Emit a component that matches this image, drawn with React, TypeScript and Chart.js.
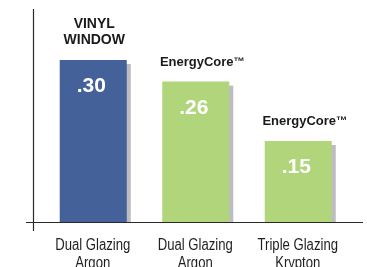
import React, { useEffect, useRef } from "react";
import { Chart, registerables } from "chart.js";

Chart.register(...registerables);

const categories: string[][] = [
  ["Dual Glazing", "Argon"],
  ["Dual Glazing", "Argon"],
  ["Triple Glazing", "Krypton"],
];
const values: number[] = [0.3, 0.26, 0.15];
const topLabels: string[][] = [["VINYL", "WINDOW"], ["EnergyCore"], ["EnergyCore"]];
const topMarks: string[] = ["", "™", "™"];
const barColors: string[] = ["#44619a", "#b1d57b", "#b1d57b"];

const SHADOW = "#bdbdc1";
const AXIS = "#2a2a2a";
const FONT = "'Liberation Sans', Arial, sans-serif";

const fmt = (v: number) => v.toFixed(2).replace(/^0/, "");

const decor = {
  id: "decor",
  beforeDatasetsDraw(chart: any) {
    const ctx = chart.ctx;
    const meta = chart.getDatasetMeta(0);
    const base = chart.scales.y.getPixelForValue(0);
    ctx.save();
    ctx.fillStyle = SHADOW;
    meta.data.forEach((bar: any) => {
      const { x, y, width } = bar.getProps(["x", "y", "width"], true);
      ctx.fillRect(x - width / 2 + 4, y + 4, width, base - y - 4);
    });
    ctx.restore();
  },
  afterDatasetsDraw(chart: any) {
    const ctx = chart.ctx;
    const meta = chart.getDatasetMeta(0);
    const xScale = chart.scales.x;
    const { left, right, top, bottom } = chart.chartArea;
    ctx.save();
    // axes
    ctx.strokeStyle = AXIS;
    ctx.lineWidth = 1.2;
    ctx.beginPath();
    ctx.moveTo(left - 8.5, top + 3);
    ctx.lineTo(left - 8.5, bottom + 9);
    ctx.moveTo(left - 16, bottom + 0.5);
    ctx.lineTo(right + 13.5, bottom + 0.5);
    ctx.stroke();

    // category labels (condensed)
    ctx.fillStyle = "#1f1f1f";
    ctx.font = `16px ${FONT}`;
    ctx.textAlign = "center";
    ctx.textBaseline = "alphabetic";
    categories.forEach((lines, i) => {
      const cx = xScale.getPixelForValue(i);
      lines.forEach((ln, j) => {
        ctx.save();
        ctx.translate(cx - 0.5, bottom + 28 + j * 18);
        ctx.scale(0.82, 1);
        ctx.fillText(ln, 0, 0);
        ctx.restore();
      });
    });

    meta.data.forEach((bar: any, i: number) => {
      const { x, y } = bar.getProps(["x", "y"], true);
      // value label
      ctx.fillStyle = "#ffffff";
      ctx.font = `bold 21px ${FONT}`;
      ctx.textAlign = "center";
      ctx.textBaseline = "alphabetic";
      ctx.fillText(fmt(values[i]), x - 2, y + 32);
      // top label
      const lines = topLabels[i];
      const isCaps = topMarks[i] === "";
      ctx.fillStyle = "#1a1a1a";
      const lh = 16.2;
      lines.forEach((ln, j) => {
        ctx.font = isCaps ? `bold 14px ${FONT}` : `bold 13px ${FONT}`;
        const by = y - 16 - (lines.length - 1 - j) * lh;
        ctx.textAlign = "center";
        ctx.fillText(ln, x + 1, by);
        if (topMarks[i]) {
          const w = ctx.measureText(ln).width;
          ctx.textAlign = "left";
          ctx.font = `bold 11px ${FONT}`;
          ctx.fillText(topMarks[i], x + 1 + w / 2, by - 1);
        }
      });
    });
    ctx.restore();
  },
};

export default function App() {
  const ref = useRef<HTMLCanvasElement | null>(null);
  useEffect(() => {
    if (!ref.current) return;
    const chart = new Chart(ref.current, {
      type: "bar",
      data: {
        labels: categories,
        datasets: [
          {
            data: values,
            backgroundColor: barColors,
            borderWidth: 0,
            categoryPercentage: 0.654,
            barPercentage: 1,
          },
        ],
      },
      options: {
        animation: false,
        responsive: false,
        devicePixelRatio: 1,
        layout: { padding: { left: 42, right: 17.5, top: 6, bottom: 0 } },
        plugins: { legend: { display: false }, tooltip: { enabled: false } },
        scales: {
          x: {
            grid: { display: false, drawTicks: false },
            border: { display: false },
            ticks: { display: false },
            afterFit: (scale: any) => {
              scale.height = 45;
            },
          },
          y: { display: false, min: 0, max: 0.4 },
        },
      },
      plugins: [decor],
    });
    return () => chart.destroy();
  }, []);
  return (
    <div style={{ position: "absolute", left: 0, top: 0, width: 367, height: 267, background: "#fff" }}>
      <canvas ref={ref} width={367} height={267} />
    </div>
  );
}
